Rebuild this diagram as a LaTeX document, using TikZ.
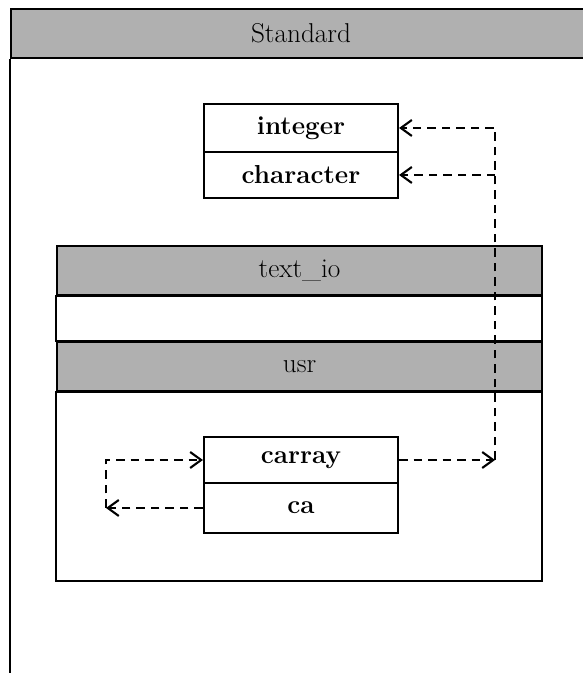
\documentclass[tikz,border=0pt]{standalone}
\usetikzlibrary{arrows.meta}
\begin{document}
\begin{tikzpicture}[
    box/.style={draw,line width=1.2pt,inner sep=0pt,minimum width=3.88cm,
      font=\fontsize{14.8}{17}\selectfont\bfseries},
    pkghead/.style={draw,line width=1.2pt,fill=gray!62,inner sep=0pt,
      font=\fontsize{15.5}{18}\selectfont},
    dep/.style={dashed,dash pattern=on 0.17cm off 0.12cm,line width=1.2pt,
      -{Straight Barb[length=2.2mm,width=3.2mm]}}]
    \useasboundingbox (0,0) rectangle (11.64,13.46);
    % Standard
    \node[pkghead,minimum width=11.6cm,minimum height=0.98cm,anchor=north west] (std) at (0.2,13.30) {Standard};
    \draw[line width=1.2pt] (std.south west) -- (0.2,0);
    \node[box,minimum height=0.96cm] (integer) at (6.02,10.90) {integer};
    \node[box,minimum height=0.92cm] (character) at (6.02,9.96) {character};
    % text_io and usr
    \node[pkghead,minimum width=9.70cm,minimum height=0.98cm] (textio) at (5.99,8.05) {text\_io};
    \draw[line width=1.2pt] (textio.south west) rectangle (10.84,6.64);
    \node[pkghead,minimum width=9.70cm,minimum height=0.98cm,anchor=north] (usr) at (5.99,6.64) {usr};
    \draw[line width=1.2pt] (usr.south west) rectangle (10.84,1.84);
    \node[box,minimum height=0.92cm] (carray) at (6.02,4.26) {carray};
    \node[box,minimum height=1.00cm] (ca) at (6.02,3.30) {ca};
    % dependencies
    \coordinate (rt) at (9.90,10.90);
    \coordinate (rm) at (9.90,9.96);
    \coordinate (rb) at (9.90,4.26);
    \coordinate (lt) at (2.12,4.26);
    \coordinate (lb) at (2.12,3.30);
    \draw[dep] (carray.east) -- (rb);
    \draw[dep] (rb) -- (rt) -- (integer.east);
    \draw[dep] (rm) -- (character.east);
    \draw[dep] (ca.west) -- (lb);
    \draw[dep] (lb) -- (lt) -- (carray.west);
\end{tikzpicture}
\end{document}
